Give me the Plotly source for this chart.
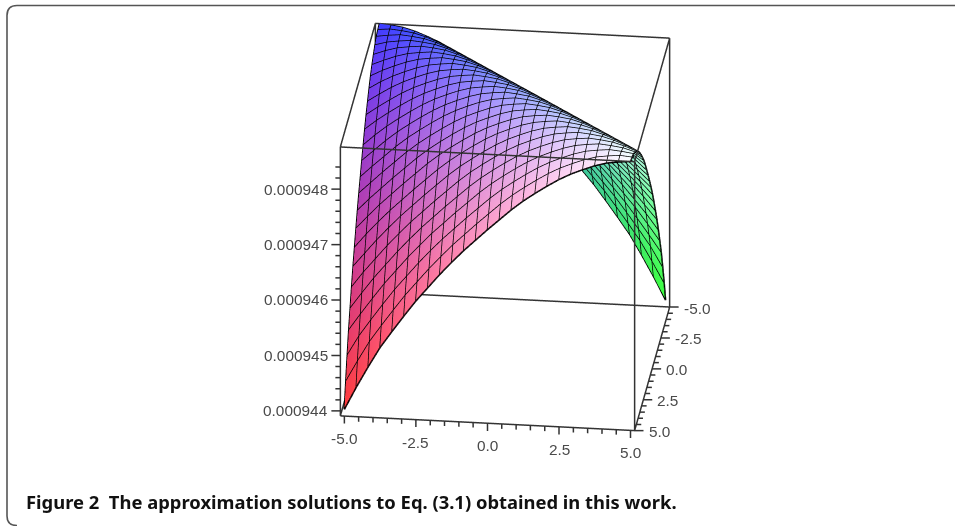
import numpy as np
import plotly.graph_objects as go

W, H = 955, 526
# ridge profile: z (in 1e-6) against grid-step distance from the ridge line x = y
profile_1e6 = [948.76, 948.74, 948.71, 948.65, 948.57, 948.48, 948.37, 948.24, 948.10,
               947.95, 947.78, 947.59, 947.40, 947.20, 947.00, 946.78, 946.55, 946.30,
               946.05, 945.77, 945.48, 945.18, 944.82, 944.44, 944.03]
x_grid = [-5.0 + 10.0 * i / 24 for i in range(25)]
y_grid = list(x_grid)
x_box = [-5.14, 5.14]
y_box = [-5.0, 5.0]
z_box = [943.91e-6, 948.76e-6]
x_major = [-5.0, -2.5, 0.0, 2.5, 5.0]
y_major = [-5.0, -2.5, 0.0, 2.5, 5.0]
z_major = [0.000944, 0.000945, 0.000946, 0.000947, 0.000948]
x_labels = ["-5.0", "-2.5", "0.0", "2.5", "5.0"]
y_labels = ["-5.0", "-2.5", "0.0", "2.5", "5.0"]
z_labels = ["0.000944", "0.000945", "0.000946", "0.000947", "0.000948"]
caption = "Figure 2  The approximation solutions to Eq. (3.1) obtained in this work."

n = len(x_grid)
Z = np.array([[profile_1e6[abs(i - j)] * 1e-6 for i in range(n)] for j in range(n)])  # Z[j][i]: y_j, x_i
X, Y = np.meshgrid(x_grid, y_grid)

lo, hi = 60, 255
def chan(v, a, b):
    return lo + (hi - lo) * (v - a) / (b - a)
R = chan(Y, -5, 5)
G = chan(X, -5, 5)
B = chan(Z, Z.min(), Z.max())
vcol = [f"rgb({int(r)},{int(g)},{int(b)})" for r, g, b in zip(R.ravel(), G.ravel(), B.ravel())]
ii, jj, kk = [], [], []
for j in range(n - 1):
    for i in range(n - 1):
        a = j * n + i
        ii += [a, a]
        jj += [a + 1, a + n + 1]
        kk += [a + n + 1, a + n]

traces = [go.Mesh3d(x=X.ravel(), y=Y.ravel(), z=Z.ravel(), i=ii, j=jj, k=kk,
                    vertexcolor=vcol, flatshading=False, hoverinfo="skip",
                    lighting=dict(ambient=1, diffuse=0, specular=0, roughness=1, fresnel=0))]

lx, ly, lz = [], [], []
for j in range(n):
    lx += list(X[j]) + [None]; ly += list(Y[j]) + [None]; lz += list(Z[j]) + [None]
for i in range(n):
    lx += list(X[:, i]) + [None]; ly += list(Y[:, i]) + [None]; lz += list(Z[:, i]) + [None]
traces.append(go.Scatter3d(x=lx, y=ly, z=lz, mode="lines", line=dict(color="#000000", width=3), hoverinfo="skip"))

# box
x0, x1 = x_box
y0, y1 = y_box
z0, z1 = z_box
edges = [((x0, y0, z0), (x1, y0, z0)), ((x0, y1, z0), (x1, y1, z0)), ((x0, y0, z1), (x1, y0, z1)), ((x0, y1, z1), (x1, y1, z1)),
         ((x0, y0, z0), (x0, y1, z0)), ((x1, y0, z0), (x1, y1, z0)), ((x0, y0, z1), (x0, y1, z1)), ((x1, y0, z1), (x1, y1, z1)),
         ((x0, y0, z0), (x0, y0, z1)), ((x1, y0, z0), (x1, y0, z1)), ((x0, y1, z0), (x0, y1, z1)), ((x1, y1, z0), (x1, y1, z1))]

dxr = x1 - x0; dyr = y1 - y0; dzr = z1 - z0
PAD = 0.06
x_range = [x0 - PAD * dxr, x1 + PAD * dxr]
y_range = [y1 + PAD * dyr, y0 - PAD * dyr]
z_range = [z0 - PAD * dzr, z1 + PAD * dzr]

def add_seg(store, p, q):
    store[0] += [p[0], q[0], None]; store[1] += [p[1], q[1], None]; store[2] += [p[2], q[2], None]
box = [[], [], []]
for p, q in edges:
    add_seg(box, p, q)

# ticks: offset directions giving screen-left, screen-right and screen-down
def tick(store, p, dirn, length):
    q = (p[0] + dirn[0] * length * dxr, p[1] + dirn[1] * length * dyr, p[2])
    add_seg(store, p, q)
LEFT = (-0.00334, 0.0004); RIGHT = (0.00334, -0.0004); DOWN = (0.000936, 0.00789)
for v in np.arange(z_major[0], z_major[-1] + 5e-7, 2e-7):
    if z0 <= v <= z1:
        major = min(abs(v - m) for m in z_major) < 1e-9
        tick(box, (x0, y1, v), LEFT, 9 if major else 5)
for v in np.arange(-5.0, 5.01, 0.5):
    major = min(abs(v - m) for m in x_major) < 1e-9
    tick(box, (v, y1, z0), DOWN, 8 if major else 5)
    major = min(abs(v - m) for m in y_major) < 1e-9
    tick(box, (x1, v, z0), RIGHT, 9 if major else 5)
traces.append(go.Scatter3d(x=box[0], y=box[1], z=box[2], mode="lines", line=dict(color="#333333", width=3), hoverinfo="skip"))

font = dict(family="Liberation Sans", size=15.4, color="#4a4a4a")
ann = []
for v, t in zip(z_major, z_labels):
    ann.append(dict(x=x0, y=y1, z=v, text=t, showarrow=False, xanchor="right", yanchor="middle", xshift=-10, yshift=0, font=font))
for v, t in zip(x_major, x_labels):
    ann.append(dict(x=v, y=y1, z=z0, text=t, showarrow=False, xanchor="center", yanchor="top", xshift=0, yshift=-12, font=font))
for v, t in zip(y_major, y_labels):
    ann.append(dict(x=x1, y=v, z=z0, text=t, showarrow=False, xanchor="left", yanchor="middle", xshift=12, yshift=-1, font=font))

hidden = dict(visible=False, showgrid=False, zeroline=False, showline=False, showbackground=False,
              showticklabels=False, showspikes=False, title="")
eye_dir = np.array([0.1074, -0.9012, 0.42])
k = 2.0
f = 1.462
cx, cy, half = 505, 227, 227
px = lambda v: v / W
py = lambda v: 1 - v / H
frame = (f"M {px(955)} {py(5.5)} L {px(17)} {py(5.5)} Q {px(7)} {py(5.5)} {px(7)} {py(15.5)} "
         f"L {px(7)} {py(516)} Q {px(7)} {py(525.5)} {px(17)} {py(525.5)}")
fig = go.Figure(traces)
fig.update_layout(
    width=W, height=H, margin=dict(l=0, r=0, t=0, b=0), paper_bgcolor="white", showlegend=False,
    scene=dict(
        domain=dict(x=[(cx - half) / W, (cx + half) / W], y=[1 - (cy + half) / H, 1 - (cy - half) / H]),
        xaxis=dict(hidden, range=x_range), yaxis=dict(hidden, range=y_range), zaxis=dict(hidden, range=z_range),
        aspectmode="manual", aspectratio=dict(x=f, y=f, z=f),
        camera=dict(eye=dict(x=eye_dir[0] * k, y=eye_dir[1] * k, z=eye_dir[2] * k), up=dict(x=0, y=0, z=1),
                    center=dict(x=0, y=0, z=0), projection=dict(type="orthographic")),
        annotations=ann,
    ),
    shapes=[dict(type="path", xref="paper", yref="paper", path=frame, line=dict(width=1.6, color="#555555"))],
    annotations=[dict(text="<b>" + caption + "</b>", xref="paper", yref="paper", x=24 / W, y=1 - 501.5 / H,
                      xanchor="left", yanchor="middle", showarrow=False,
                      font=dict(family="Noto Sans", size=18.4, color="#111111"))],
)
fig.write_html("out.html", post_script="document.body.style.margin='0';", config=dict(displayModeBar=False))
